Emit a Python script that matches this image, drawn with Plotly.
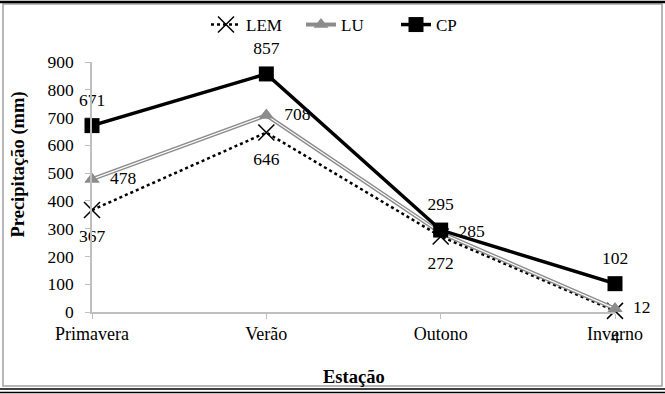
import plotly.graph_objects as go

categories = ["Primavera", "Verão", "Outono", "Inverno"]
lem = [367, 646, 272, 4]
lu = [478, 708, 285, 12]
cp = [671, 857, 295, 102]

W, H = 665, 394
L, R, T, B = 92, 50, 62, 82
pw, ph = W - L - R, H - T - B

def px(x):
    return (x - L) / pw

def py(y):
    return (H - B - y) / ph

FONT = "Times New Roman, Liberation Serif, Tinos, serif"
LBL = dict(family=FONT, size=17.5, color="black")
fig = go.Figure()

# LEM
fig.add_trace(go.Scatter(
    x=categories, y=lem, name="LEM", mode="lines+markers",
    line=dict(color="black", width=2.5, dash="dot"),
    marker=dict(symbol="x-thin", size=16, line=dict(color="black", width=1.5)),
    cliponaxis=False,
))
# LU (gray double line)
fig.add_trace(go.Scatter(
    x=categories, y=lu, name="LU", mode="lines+markers",
    line=dict(color="#8c8c8c", width=4),
    marker=dict(symbol="triangle-up", size=13, color="#8c8c8c"),
    cliponaxis=False,
))
fig.add_trace(go.Scatter(
    x=categories, y=lu, mode="lines", showlegend=False, hoverinfo="skip",
    line=dict(color="white", width=1.2), cliponaxis=False,
))
fig.add_trace(go.Scatter(
    x=categories, y=lu, mode="markers", showlegend=False, hoverinfo="skip",
    marker=dict(symbol="triangle-up", size=13, color="#8c8c8c"), cliponaxis=False,
))
# CP
fig.add_trace(go.Scatter(
    x=categories, y=cp, name="CP", mode="lines+markers",
    line=dict(color="black", width=3.5),
    marker=dict(symbol="square", size=15, color="black"),
    cliponaxis=False,
))

# data labels
fig.add_trace(go.Scatter(
    x=categories, y=lem, mode="markers+text", showlegend=False, hoverinfo="skip",
    marker=dict(size=29, opacity=0),
    text=[str(v) for v in lem], textposition="bottom center",
    textfont=LBL, cliponaxis=False,
))
fig.add_trace(go.Scatter(
    x=categories, y=lu, mode="markers+text", showlegend=False, hoverinfo="skip",
    marker=dict(size=13, opacity=0),
    text=[str(v) for v in lu], texttemplate="  %{text}",
    textposition="middle right", textfont=LBL, cliponaxis=False,
))
fig.add_trace(go.Scatter(
    x=categories, y=cp, mode="markers+text", showlegend=False, hoverinfo="skip",
    marker=dict(size=23, opacity=0),
    text=[str(v) for v in cp], textposition="top center",
    textfont=LBL, cliponaxis=False,
))

shapes = [
    dict(type="rect", xref="paper", yref="paper",
         x0=px(3), x1=px(662), y0=py(386), y1=py(4),
         line=dict(color="#a0a0a0", width=1.5), layer="below"),
    dict(type="line", xref="paper", yref="paper",
         x0=px(0), x1=px(665), y0=py(2), y1=py(2),
         line=dict(color="black", width=2.5)),
    dict(type="line", xref="paper", yref="paper",
         x0=px(0), x1=px(665), y0=py(389), y1=py(389),
         line=dict(color="black", width=1.5)),
    dict(type="line", xref="paper", yref="paper",
         x0=px(0), x1=px(665), y0=py(392.5), y1=py(392.5),
         line=dict(color="black", width=1.5)),
]

annotations = [
    dict(text="Precipitação (mm)", xref="paper", yref="paper",
         x=px(17.5), y=py(165), xanchor="center", yanchor="middle",
         textangle=-90, showarrow=False,
         font=dict(family=FONT, size=18.5, color="black", weight="bold")),
    dict(text="Estação", xref="paper", yref="paper",
         x=px(354), y=py(377), xanchor="center", yanchor="middle",
         showarrow=False,
         font=dict(family=FONT, size=18.5, color="black", weight="bold")),
]

fig.update_layout(
    width=W, height=H,
    margin=dict(l=L, r=R, t=T, b=B, pad=0, autoexpand=False),
    paper_bgcolor="white", plot_bgcolor="white",
    font=dict(family=FONT, size=17, color="black"),
    showlegend=True,
    legend=dict(orientation="h", xref="container", x=206 / W, xanchor="left",
                yref="container", y=1 - 7 / H, yanchor="top",
                font=dict(family=FONT, size=17, color="black"),
                bgcolor="rgba(0,0,0,0)", entrywidth=50, tracegroupgap=0),
    shapes=shapes,
    annotations=annotations,
    xaxis=dict(
        type="category", range=[0, 3], showgrid=False, zeroline=False,
        showline=True, linecolor="#bfbfbf", linewidth=1.5,
        ticks="outside", ticklen=5, tickcolor="#bfbfbf",
        tickfont=dict(family=FONT, size=18, color="black"),
    ),
    yaxis=dict(
        range=[0, 900], dtick=100, showgrid=False, zeroline=False,
        showline=True, linecolor="#bfbfbf", linewidth=1.5,
        ticks="outside", ticklen=5, tickcolor="#bfbfbf",
        ticklabelstandoff=8,
        tickfont=dict(family=FONT, size=17.5, color="black"),
    ),
)

fig.write_html("out.html", config={"displayModeBar": False},
               post_script="document.body.style.margin='0';")
